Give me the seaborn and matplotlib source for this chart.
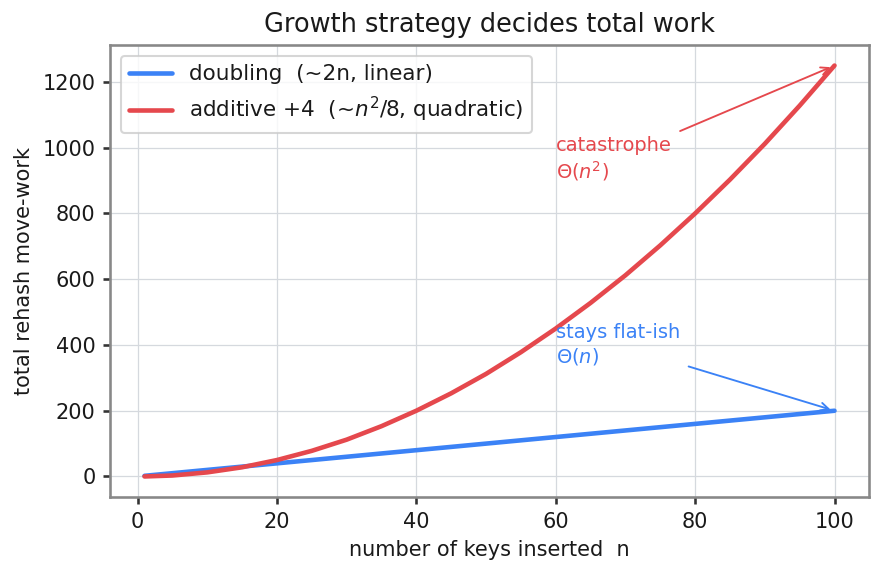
import matplotlib
matplotlib.use("Agg")
import matplotlib.pyplot as plt
import seaborn as sns

# keys inserted and total rehash move-work
n_keys = [1, 5, 10, 15, 20, 25, 30, 35, 40, 45, 50, 55, 60, 65, 70, 75, 80, 85, 90, 95, 100]
doubling_work = [2, 10, 20, 30, 40, 50, 60, 70, 80, 90, 100, 110, 120, 130, 140, 150, 160, 170, 180, 190, 200]
additive_work = [0.1, 3, 12.5, 28, 50, 78, 112, 153, 200, 253, 312, 378, 450, 528, 612, 703, 800, 903, 1012, 1128, 1250]

blue = "#3b82f6"
red = "#e5484d"

sns.set_theme(style="whitegrid", rc={
    "axes.edgecolor": "#888888",
    "grid.color": "#d5d9de",
    "grid.linewidth": 0.6,
    "xtick.bottom": True,
    "ytick.left": True,
    "xtick.color": "#333333",
    "ytick.color": "#333333",
    "xtick.labelcolor": "#1a1a1a",
    "ytick.labelcolor": "#1a1a1a",
    "axes.labelcolor": "#1a1a1a",
    "text.color": "#1a1a1a",
    "xtick.major.size": 3.5,
    "ytick.major.size": 3.5,
    "font.size": 10,
    "axes.titlesize": 12.3,
    "axes.labelsize": 10,
    "xtick.labelsize": 10,
    "ytick.labelsize": 10,
    "legend.fontsize": 10.3,
})
plt.rcParams['font.family'] = ['DejaVu Sans']

fig, ax = plt.subplots(figsize=(8.83 / 1.5, 5.73 / 1.5), dpi=150)

sns.lineplot(x=n_keys, y=doubling_work, color=blue, lw=2.2, ax=ax,
             label="doubling  (~2n, linear)")
sns.lineplot(x=n_keys, y=additive_work, color=red, lw=2.2, ax=ax,
             label="additive +4  (~$n^2$/8, quadratic)")

ax.annotate("catastrophe\n$\\Theta(n^2)$", xy=(n_keys[-1], additive_work[-1]),
            xytext=(60, 965), color=red, fontsize=9.3, ha="left", va="center",
            arrowprops=dict(arrowstyle="->", color=red, lw=0.9))
ax.annotate("stays flat-ish\n$\\Theta(n)$", xy=(n_keys[-1], doubling_work[-1]),
            xytext=(60, 400), color=blue, fontsize=9.3, ha="left", va="center",
            arrowprops=dict(arrowstyle="->", color=blue, lw=0.9))

ax.set_title("Growth strategy decides total work")
ax.set_xlabel("number of keys inserted  n")
ax.set_ylabel("total rehash move-work")
ax.legend(loc="upper left", frameon=True)

fig.subplots_adjust(left=110 / 883, right=869 / 883, top=1 - 45 / 573, bottom=1 - 497 / 573)
plt.savefig("out.png", dpi=150)
